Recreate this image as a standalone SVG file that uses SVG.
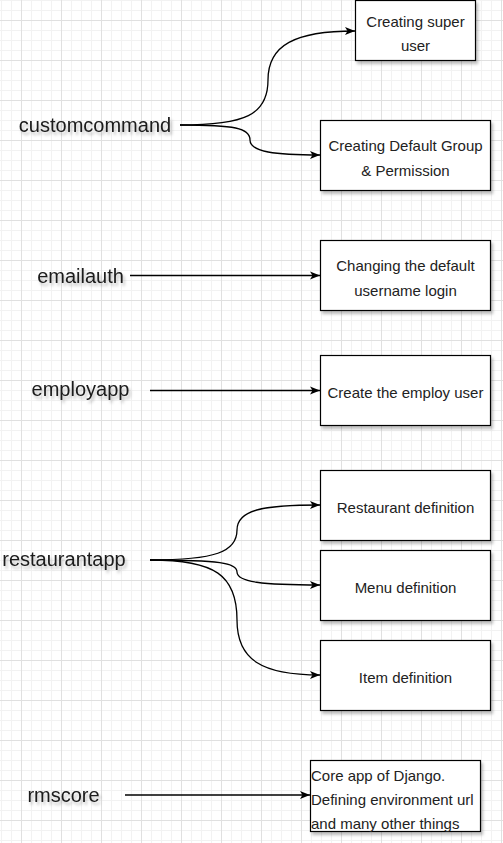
<svg xmlns="http://www.w3.org/2000/svg" width="503" height="843" viewBox="0 0 503 843">
  <defs>
    <pattern id="grid" x="21" y="20" width="40" height="40" patternUnits="userSpaceOnUse">
      <path d="M10.5,0V40M20.5,0V40M30.5,0V40M0,10.5H40M0,20.5H40M0,30.5H40" stroke="#f2f2f2" stroke-width="1" fill="none"/>
      <path d="M0.5,0V40M0,0.5H40" stroke="#e0e0e0" stroke-width="1" fill="none"/>
    </pattern>
    <filter id="shadow" x="-20%" y="-20%" width="150%" height="160%">
      <feDropShadow dx="2" dy="3" stdDeviation="1.5" flood-color="#000" flood-opacity="0.25"/>
    </filter>
    <marker id="arrow" markerUnits="userSpaceOnUse" markerWidth="12" markerHeight="10" refX="10" refY="4" orient="auto" viewBox="0 0 12 8">
      <path d="M0,0 L10,4 L0,8 L2.5,4 Z" fill="#000"/>
    </marker>
    <style>
      .box { fill: #ffffff; stroke: #000000; stroke-width: 1.2; }
      .bt { font-family: "Liberation Sans", Arial, sans-serif; font-size: 15px; fill: #222222; text-anchor: middle; }
      .bl { font-family: "Liberation Sans", Arial, sans-serif; font-size: 15px; fill: #222222; }
      .lbl { font-family: "Liberation Sans", Arial, sans-serif; font-size: 20px; fill: #1a1a1a; text-anchor: middle; }
      .edge { fill: none; stroke: #000000; stroke-width: 1.3; marker-end: url(#arrow); }
    </style>
  </defs>
  <rect x="0" y="0" width="503" height="843" fill="#ffffff"/>
  <rect x="0" y="0" width="503" height="843" fill="url(#grid)"/>

  <g id="connectors">
    <path class="edge" d="M180,125 C245,125 268,115 268,80 C268,45 295,31 355,31"/>
    <path class="edge" d="M180,125 C235,125 250,128 250,140 C250,152 275,155 320,155"/>
    <path class="edge" d="M130,275.5 L320,275.5"/>
    <path class="edge" d="M150,390.5 L320,390.5"/>
    <path class="edge" d="M150,560 C215,560 237,552 237,530 C237,510 262,505 320,505"/>
    <path class="edge" d="M150,560 C220,560 237,563 237,572 C237,582 262,585 320,585"/>
    <path class="edge" d="M150,560 C215,560 237,575 237,620 C237,660 262,675 320,675"/>
    <path class="edge" d="M125,795 L310,795"/>
  </g>

  <g id="customcommand" filter="url(#shadow)">
    <text class="lbl" x="95" y="132">customcommand</text>
  </g>
  <g id="emailauth" filter="url(#shadow)">
    <text class="lbl" x="80.5" y="282.5">emailauth</text>
  </g>
  <g id="employapp" filter="url(#shadow)">
    <text class="lbl" x="80.5" y="396">employapp</text>
  </g>
  <g id="restaurantapp" filter="url(#shadow)">
    <text class="lbl" x="64" y="565.5">restaurantapp</text>
  </g>
  <g id="rmscore" filter="url(#shadow)">
    <text class="lbl" x="63.5" y="801.5">rmscore</text>
  </g>

  <g id="superuser">
    <rect class="box" x="355.5" y="0.5" width="120" height="60" filter="url(#shadow)"/>
    <text class="bt" x="415.5" y="26.5">Creating super</text>
    <text class="bt" x="415.5" y="50.5">user</text>
  </g>
  <g id="defaultgroup">
    <rect class="box" x="320.5" y="120.5" width="170" height="70" filter="url(#shadow)"/>
    <text class="bt" x="405.5" y="151">Creating Default Group</text>
    <text class="bt" x="405.5" y="175.5">&amp; Permission</text>
  </g>
  <g id="changinglogin">
    <rect class="box" x="320.5" y="240.5" width="170" height="70" filter="url(#shadow)"/>
    <text class="bt" x="405.5" y="271">Changing the default</text>
    <text class="bt" x="405.5" y="295.5">username login</text>
  </g>
  <g id="employuser">
    <rect class="box" x="320.5" y="355.5" width="170" height="70" filter="url(#shadow)"/>
    <text class="bt" x="405.5" y="398">Create the employ user</text>
  </g>
  <g id="restaurantdef">
    <rect class="box" x="320.5" y="470.5" width="170" height="70" filter="url(#shadow)"/>
    <text class="bt" x="405.5" y="513">Restaurant definition</text>
  </g>
  <g id="menudef">
    <rect class="box" x="320.5" y="550.5" width="170" height="70" filter="url(#shadow)"/>
    <text class="bt" x="405.5" y="593">Menu definition</text>
  </g>
  <g id="itemdef">
    <rect class="box" x="320.5" y="640.5" width="170" height="70" filter="url(#shadow)"/>
    <text class="bt" x="405.5" y="683">Item definition</text>
  </g>
  <g id="coreapp">
    <rect class="box" x="310.5" y="760.5" width="170" height="71" filter="url(#shadow)"/>
    <text class="bl" x="311" y="781">Core app of Django.</text>
    <text class="bl" x="311" y="804.5">Defining environment url</text>
    <text class="bl" x="311" y="828.5">and many other things</text>
  </g>
</svg>
